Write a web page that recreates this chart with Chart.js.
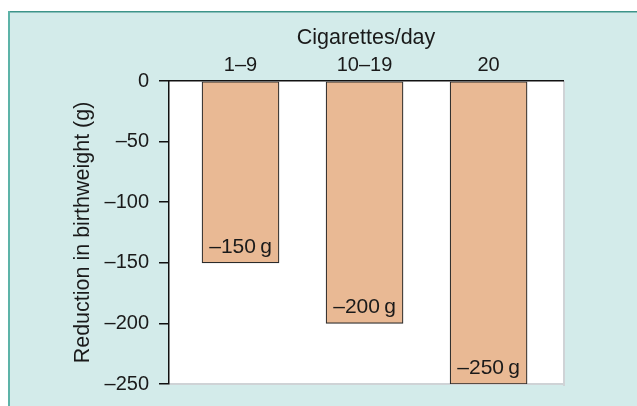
<!DOCTYPE html>
<html>
<head>
<meta charset="utf-8">
<script src="https://cdn.jsdelivr.net/npm/chart.js@4.4.1/dist/chart.umd.min.js"></script>
<style>
  html, body { margin: 0; padding: 0; background: #ffffff; }
  #wrap { position: absolute; left: 0; top: 0; width: 637px; height: 406px; }
</style>
</head>
<body>
<div id="wrap"><canvas id="c" width="637" height="406"></canvas></div>
<script>
// ---- data ----
const categories = ['1–9', '10–19', '20'];
const reductions = [-150, -200, -250];
const yTickValues = [0, -50, -100, -150, -200, -250];
const xTitle = 'Cigarettes/day';
const yTitle = 'Reduction in birthweight (g)';

const FONT = "'Liberation Sans', Arial, Helvetica, sans-serif";
const TEXT = '#1a1a1a';

function fmt(v) {
  return v < 0 ? '–' + Math.abs(v) : String(v);
}

const frame = {
  id: 'frame',
  beforeDraw(chart) {
    const ctx = chart.ctx;
    const W = chart.width, H = chart.height;
    ctx.save();
    ctx.fillStyle = '#ffffff';
    ctx.fillRect(0, 0, W, H);
    ctx.fillStyle = '#d3ebea';
    ctx.fillRect(8, 11, W - 8, H - 11);
    ctx.fillStyle = '#3d9489';
    ctx.fillRect(8, 11, W - 8, 1.5);
    ctx.fillStyle = '#5db3a8';
    ctx.fillRect(8, 11, 2, H - 11);
    const a = chart.chartArea;
    ctx.fillStyle = '#ffffff';
    ctx.fillRect(a.left, a.top, a.right - a.left, a.bottom - a.top);
    ctx.fillStyle = '#cfd3d6';
    ctx.fillRect(a.right, a.top, 2, a.bottom - a.top + 2);
    ctx.fillRect(a.left, a.bottom - 1, a.right - a.left + 2, 2);
    ctx.restore();
  }
};

const barLabels = {
  id: 'barLabels',
  afterDatasetsDraw(chart) {
    const ctx = chart.ctx;
    const meta = chart.getDatasetMeta(0);
    ctx.save();
    ctx.font = '21px ' + FONT;
    ctx.fillStyle = TEXT;
    ctx.textAlign = 'center';
    ctx.textBaseline = 'alphabetic';
    meta.data.forEach((bar, i) => {
      const txt = fmt(reductions[i]) + '\u2009g';
      ctx.fillText(txt, bar.x, bar.y - 10);
    });
    ctx.restore();
  }
};

const ctx = document.getElementById('c').getContext('2d');
new Chart(ctx, {
  type: 'bar',
  data: {
    datasets: [{
      data: reductions.map((v, i) => ({ x: i + 1, y: v })),
      backgroundColor: '#e9b994',
      borderColor: '#2a2a2a',
      borderWidth: 1.2,
      borderSkipped: false,
      barThickness: 77
    }]
  },
  options: {
    responsive: false,
    animation: false,
    layout: { padding: { left: 0, top: 0, right: 74, bottom: 21 } },
    plugins: { legend: { display: false }, tooltip: { enabled: false } },
    scales: {
      x: {
        type: 'linear',
        position: 'top',
        offset: false,
        min: 0.4234,
        max: 3.6,
        afterBuildTicks(scale) {
          scale.ticks = categories.map((c, i) => ({ value: i + 1 }));
        },
        afterFit(scale) { scale.height = 81; },
        grid: { display: false, drawTicks: false, offset: false },
        border: { display: true, color: '#111111', width: 1.5 },
        ticks: {
          padding: 4,
          color: TEXT,
          font: { family: FONT, size: 20 },
          maxRotation: 0,
          autoSkip: false,
          callback: (v) => categories[Math.round(v) - 1] || ''
        },
        title: {
          display: true,
          text: xTitle,
          color: TEXT,
          font: { family: FONT, size: 21.5 },
          padding: { top: 25.1, bottom: 0 }
        }
      },
      y: {
        min: -250,
        max: 0,
        afterBuildTicks(scale) {
          scale.ticks = yTickValues.map(v => ({ value: v }));
        },
        afterFit(scale) { scale.width = 169; },
        grid: {
          display: true,
          drawOnChartArea: false,
          drawTicks: true,
          tickLength: 10,
          color: '#111111',
          lineWidth: 1.5
        },
        border: { display: true, color: '#111111', width: 1.5 },
        ticks: {
          padding: 10,
          color: TEXT,
          font: { family: FONT, size: 20 },
          callback: (v) => fmt(v)
        },
        title: {
          display: true,
          text: yTitle,
          color: TEXT,
          font: { family: FONT, size: 21.5 },
          padding: { top: 70.1, bottom: 0 }
        }
      }
    }
  },
  plugins: [frame, barLabels]
});
</script>
</body>
</html>
